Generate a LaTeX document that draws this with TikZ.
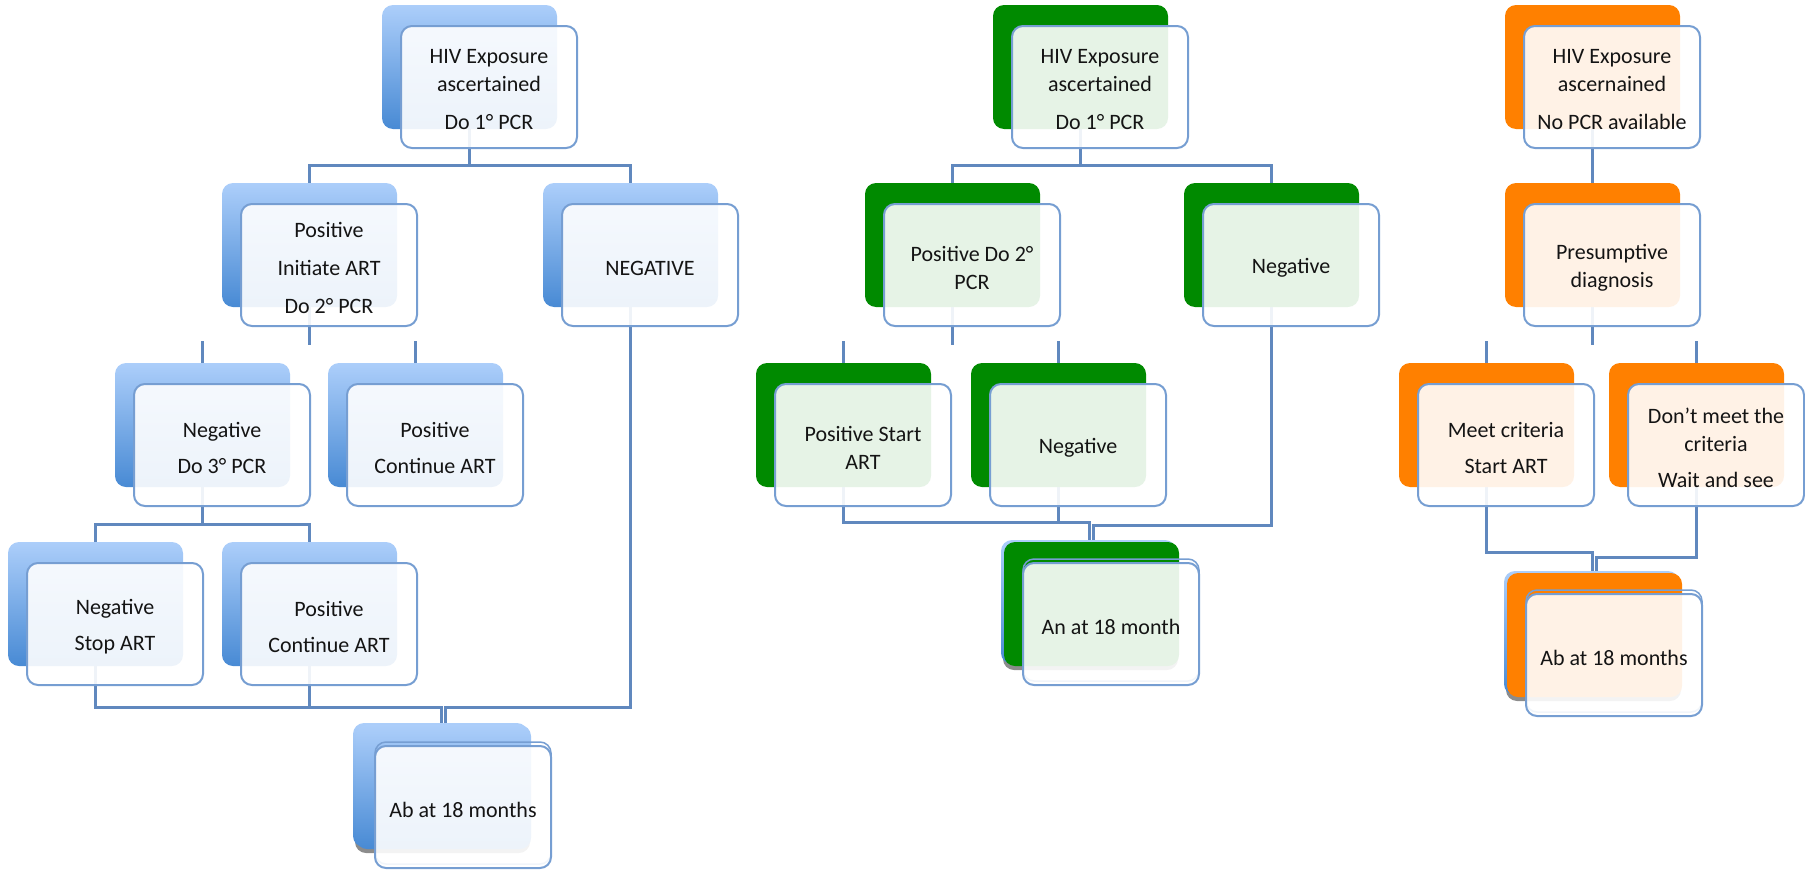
\documentclass[tikz,border=0pt]{standalone}
\usepackage{fontspec}
\setmainfont{Carlito}
\usetikzlibrary{calc}
\pgfdeclarelayer{bg}
\pgfsetlayers{bg,main}

\definecolor{blueTop}{RGB}{172,206,250}
\definecolor{blueBot}{RGB}{72,138,212}
\definecolor{leafGreen}{RGB}{0,138,0}
\definecolor{deepOrange}{RGB}{255,128,0}
\definecolor{frameBlue}{RGB}{118,158,210}
\definecolor{linkBlue}{RGB}{96,136,190}

\tikzset{
  backbox/.style={anchor=north west, minimum width=175pt, minimum height=124pt,
    inner sep=0pt, outer sep=0pt, rounded corners=11pt},
  bluefill/.style={top color=blueTop, bottom color=blueBot},
  greenfill/.style={fill=leafGreen},
  orangefill/.style={fill=deepOrange},
  frontbox/.style={anchor=north west, minimum width=176pt, minimum height=122pt,
    inner sep=0pt, outer sep=0pt, rounded corners=11pt, draw=frameBlue,
    line width=2pt, fill=white, fill opacity=0.9},
  cardtext/.style={align=center, inner sep=0pt,
    font=\fontsize{22}{28}\selectfont, text=black!92},
  ghostframe/.style={anchor=north west, minimum width=176pt, minimum height=122pt,
    inner sep=0pt, outer sep=0pt, rounded corners=11pt, draw=frameBlue,
    line width=1.5pt},
  conn/.style={draw=linkBlue, line width=3pt},
}

% a coloured back panel with a translucent framed card in front of it
\newcommand\boxpair[5]{%
  \node[backbox,#4] (#1-b) at (#2,#3) {};
  \node[frontbox] (#1-f) at (#2+19,#3+21) {};
  \node[cardtext] (#1-x) at ($(#1-f.center)+(0,3)$) {#5};
}
% the same, drawn as a small stack of cards
\newcommand\stackpair[5]{%
  \node[backbox, fill=black!45] (#1-s) at (#2-1,#3+4) {};
  \node[backbox, bluefill] (#1-t) at (#2-3,#3-2) {};
  \node[backbox,#4] (#1-b) at (#2,#3) {};
  \node[ghostframe] (#1-g) at (#2+19,#3+17) {};
  \node[frontbox] (#1-f) at (#2+19,#3+21) {};
  \node[cardtext] (#1-x) at ($(#1-f.center)+(0,3)$) {#5};
}

\begin{document}
\begin{tikzpicture}[x=1pt,y=-1pt]
\useasboundingbox (0,0) rectangle (1805,870);

% ---------- PCR available ----------
\boxpair{L0}{382}{5}{bluefill}{HIV Exposure\\ascertained\\[10pt]Do 1° PCR}
\boxpair{L1}{222}{183}{bluefill}{Positive\\[10pt]Initiate ART\\[10pt]Do 2° PCR}
\boxpair{L2}{543}{183}{bluefill}{NEGATIVE}
\boxpair{L3}{115}{363}{bluefill}{Negative\\[8pt]Do 3° PCR}
\boxpair{L4}{328}{363}{bluefill}{Positive\\[8pt]Continue ART}
\boxpair{L5}{8}{542}{bluefill}{Negative\\[8pt]Stop ART}
\boxpair{L6}{222}{542}{bluefill}{Positive\\[8pt]Continue ART}
\stackpair{L7}{356}{725}{bluefill}{Ab at 18 months}

% ---------- PCR, second scheme ----------
\boxpair{G0}{993}{5}{greenfill}{HIV Exposure\\ascertained\\[10pt]Do 1° PCR}
\boxpair{G1}{865}{183}{greenfill}{Positive Do 2°\\PCR}
\boxpair{G2}{1184}{183}{greenfill}{Negative}
\boxpair{G3}{756}{363}{greenfill}{Positive Start\\ART}
\boxpair{G4}{971}{363}{greenfill}{Negative}
\stackpair{G5}{1004}{542}{greenfill}{An at 18 month}

% ---------- no PCR ----------
\boxpair{O0}{1505}{5}{orangefill}{HIV Exposure\\ascernained\\[10pt]No PCR available}
\boxpair{O1}{1505}{183}{orangefill}{Presumptive\\diagnosis}
\boxpair{O2}{1399}{363}{orangefill}{Meet criteria\\[8pt]Start ART}
\boxpair{O3}{1609}{363}{orangefill}{Don’t meet the\\criteria\\[8pt]Wait and see}
\stackpair{O4}{1507}{573}{orangefill}{Ab at 18 months}

\begin{pgfonlayer}{bg}
  \coordinate (busA) at (0,165);
  \coordinate (stubLo) at (0,345);
  \coordinate (stubHi) at (0,341);
  \coordinate (busB) at (0,524);
  \coordinate (busC) at (0,707);
  \coordinate (busD) at (0,522);
  \coordinate (busE) at (0,525);
  \coordinate (busF) at (0,552);
  \coordinate (busG) at (0,557);

  % first tree
  \draw[conn] (L0-b.south) -- (L0-b.south |- busA);
  \draw[conn] (L1-b.north) -- (L1-b.north |- busA) -- (L2-b.north |- busA) -- (L2-b.north);
  \draw[conn] (L1-b.south) -- (L1-b.south |- stubLo);
  \draw[conn] (L3-b.north |- stubHi) -- (L3-b.north);
  \draw[conn] (L4-b.north |- stubHi) -- (L4-b.north);
  \draw[conn] (L3-b.south) -- (L3-b.south |- busB);
  \draw[conn] (L5-b.north) -- (L5-b.north |- busB) -- (L6-b.north |- busB) -- (L6-b.north);
  \draw[conn] (L5-b.south) -- (L5-b.south |- busC) -- ([xshift=-2pt]L7-b.north |- busC) -- ([xshift=-2pt]L7-b.north |- L7-t.north);
  \draw[conn] (L6-b.south) -- (L6-b.south |- busC);
  \draw[conn] (L2-b.south) -- (L2-b.south |- busC) -- ([xshift=2pt]L7-b.north |- busC) -- ([xshift=2pt]L7-b.north |- L7-t.north);

  % second tree
  \draw[conn] (G0-b.south) -- (G0-b.south |- busA);
  \draw[conn] (G1-b.north) -- (G1-b.north |- busA) -- (G2-b.north |- busA) -- (G2-b.north);
  \draw[conn] (G1-b.south) -- (G1-b.south |- stubLo);
  \draw[conn] (G3-b.north |- stubHi) -- (G3-b.north);
  \draw[conn] (G4-b.north |- stubHi) -- (G4-b.north);
  \draw[conn] (G3-b.south) -- (G3-b.south |- busD) -- ([xshift=-2pt]G5-b.north |- busD) -- ([xshift=-2pt]G5-b.north |- G5-t.north);
  \draw[conn] (G4-b.south) -- (G4-b.south |- busD);
  \draw[conn] (G2-b.south) -- (G2-b.south |- busE) -- ([xshift=2pt]G5-b.north |- busE) -- ([xshift=2pt]G5-b.north |- G5-t.north);

  % third tree
  \draw[conn] (O0-b.south) -- (O1-b.north);
  \draw[conn] (O1-b.south) -- (O1-b.south |- stubLo);
  \draw[conn] (O2-b.north |- stubHi) -- (O2-b.north);
  \draw[conn] (O3-b.north |- stubHi) -- (O3-b.north);
  \draw[conn] (O2-b.south) -- (O2-b.south |- busF) -- ([xshift=-2pt]O4-b.north |- busF) -- ([xshift=-2pt]O4-b.north |- O4-t.north);
  \draw[conn] (O3-b.south) -- (O3-b.south |- busG) -- ([xshift=2pt]O4-b.north |- busG) -- ([xshift=2pt]O4-b.north |- O4-t.north);
\end{pgfonlayer}
\end{tikzpicture}
\end{document}
